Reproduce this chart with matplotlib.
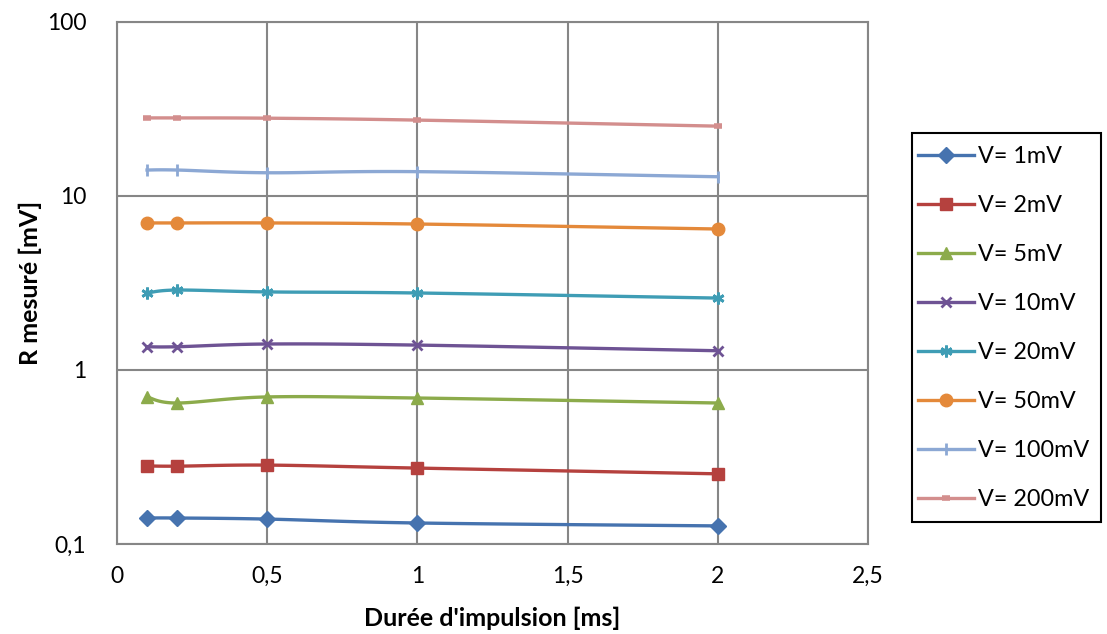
import numpy as np
import matplotlib.pyplot as plt
from matplotlib.patches import Rectangle

# Données
durees = [0.1, 0.2, 0.5, 1, 2]
etiquettes = ["V= 1mV", "V= 2mV", "V= 5mV", "V= 10mV",
              "V= 20mV", "V= 50mV", "V= 100mV", "V= 200mV"]
r_1mv = [0.141, 0.141, 0.139, 0.132, 0.127]
r_2mv = [0.281, 0.280, 0.284, 0.273, 0.253]
r_5mv = [0.700, 0.646, 0.700, 0.690, 0.646]
r_10mv = [1.36, 1.36, 1.41, 1.39, 1.29]
r_20mv = [2.77, 2.88, 2.81, 2.77, 2.59]
r_50mv = [7.0, 7.0, 7.0, 6.9, 6.46]
r_100mv = [14.1, 14.1, 13.6, 13.8, 12.9]
r_200mv = [28.1, 28.1, 28.0, 27.3, 25.2]

series = [r_1mv, r_2mv, r_5mv, r_10mv, r_20mv, r_50mv, r_100mv, r_200mv]
couleurs = ["#4673AF", "#B5413E", "#8CAB4B", "#6E5394",
            "#3F9DB5", "#E4893A", "#8CA8D4", "#D38E8D"]
marqueurs = ["D", "s", "^", "x", (6, 2, 0), "o", "|", "_"]
tailles = [8, 8, 9, 7, 8.5, 9, 9, 6]


def lisser(x, y, n=30):
    """Courbe lissée façon Excel (Bézier de type Catmull-Rom) en x / log10(y)."""
    px = np.array(x, dtype=float)
    py = np.log10(np.array(y, dtype=float))
    xs, ys = [], []
    m = len(px)
    for i in range(m - 1):
        p0 = (px[max(i - 1, 0)], py[max(i - 1, 0)])
        p1 = (px[i], py[i])
        p2 = (px[i + 1], py[i + 1])
        p3 = (px[min(i + 2, m - 1)], py[min(i + 2, m - 1)])
        c1 = (p1[0] + (p2[0] - p0[0]) / 6, p1[1] + (p2[1] - p0[1]) / 6)
        c2 = (p2[0] - (p3[0] - p1[0]) / 6, p2[1] - (p3[1] - p1[1]) / 6)
        t = np.linspace(0, 1, n)
        bx = (1 - t) ** 3 * p1[0] + 3 * (1 - t) ** 2 * t * c1[0] + 3 * (1 - t) * t ** 2 * c2[0] + t ** 3 * p2[0]
        by = (1 - t) ** 3 * p1[1] + 3 * (1 - t) ** 2 * t * c1[1] + 3 * (1 - t) * t ** 2 * c2[1] + t ** 3 * p2[1]
        xs.extend(bx)
        ys.extend(by)
    return np.array(xs), 10 ** np.array(ys)


plt.rcParams['font.family'] = ['Lato', 'DejaVu Sans']

fig = plt.figure(figsize=(11.07, 6.34), dpi=100)
ax = fig.add_axes([0.1057, 0.142, 0.6784, 0.8233])

for vals, lab, c, mk, ms in zip(series, etiquettes, couleurs, marqueurs, tailles):
    mew = 2 if mk in ("x", (6, 2, 0), "|", "_") else 1
    if mk == "_":
        mew = 4
    xs, ys = lisser(durees, vals)
    ax.plot(xs, ys, color=c, lw=2.4, zorder=3)
    ax.plot(durees, vals, linestyle='none', marker=mk, color=c, ms=ms,
            mew=mew, zorder=4)
    ax.plot([], [], color=c, lw=2.4, marker=mk, ms=ms, mew=mew, label=lab)

ax.set_yscale('log')
ax.set_ylim(0.1, 100)
ax.set_xlim(0, 2.5)
ax.set_xticks([0, 0.5, 1, 1.5, 2, 2.5])
ax.set_xticklabels(["0", "0,5", "1", "1,5", "2", "2,5"])
ax.set_yticks([0.1, 1, 10, 100])
ax.set_yticklabels(["0,1", "1", "10", "100"])
ax.minorticks_off()
ax.tick_params(length=0, labelsize=16.5)
ax.tick_params(axis='x', pad=16)
ax.tick_params(axis='y', pad=22)
ax.grid(True, color="#868686", lw=1.5)
ax.set_axisbelow(True)
for sp in ax.spines.values():
    sp.set_color("#868686")
    sp.set_linewidth(1.5)

ax.set_xlabel("Durée d'impulsion [ms]", fontsize=18, fontweight='bold')
ax.set_ylabel("R mesuré [mV]", fontsize=18, fontweight='bold')
ax.xaxis.set_label_coords(0.5, -0.142)
ax.yaxis.set_label_coords(-0.116, 0.5)
ax.xaxis.label.set_va('center')
ax.yaxis.label.set_va('center')

# cadre de la légende
fig.patches.append(Rectangle((912 / 1107, 1 - 522 / 634), 189 / 1107, 389 / 634,
                             transform=fig.transFigure, fill=False,
                             edgecolor='black', lw=1.5))
leg = fig.legend(loc='center left', bbox_to_anchor=(918 / 1107, 1 - 328 / 634),
                 fontsize=16.8, frameon=False, labelspacing=1.2,
                 handlelength=2.4, handletextpad=0.15, borderpad=0,
                 borderaxespad=0)

plt.savefig("out.png", dpi=100)
